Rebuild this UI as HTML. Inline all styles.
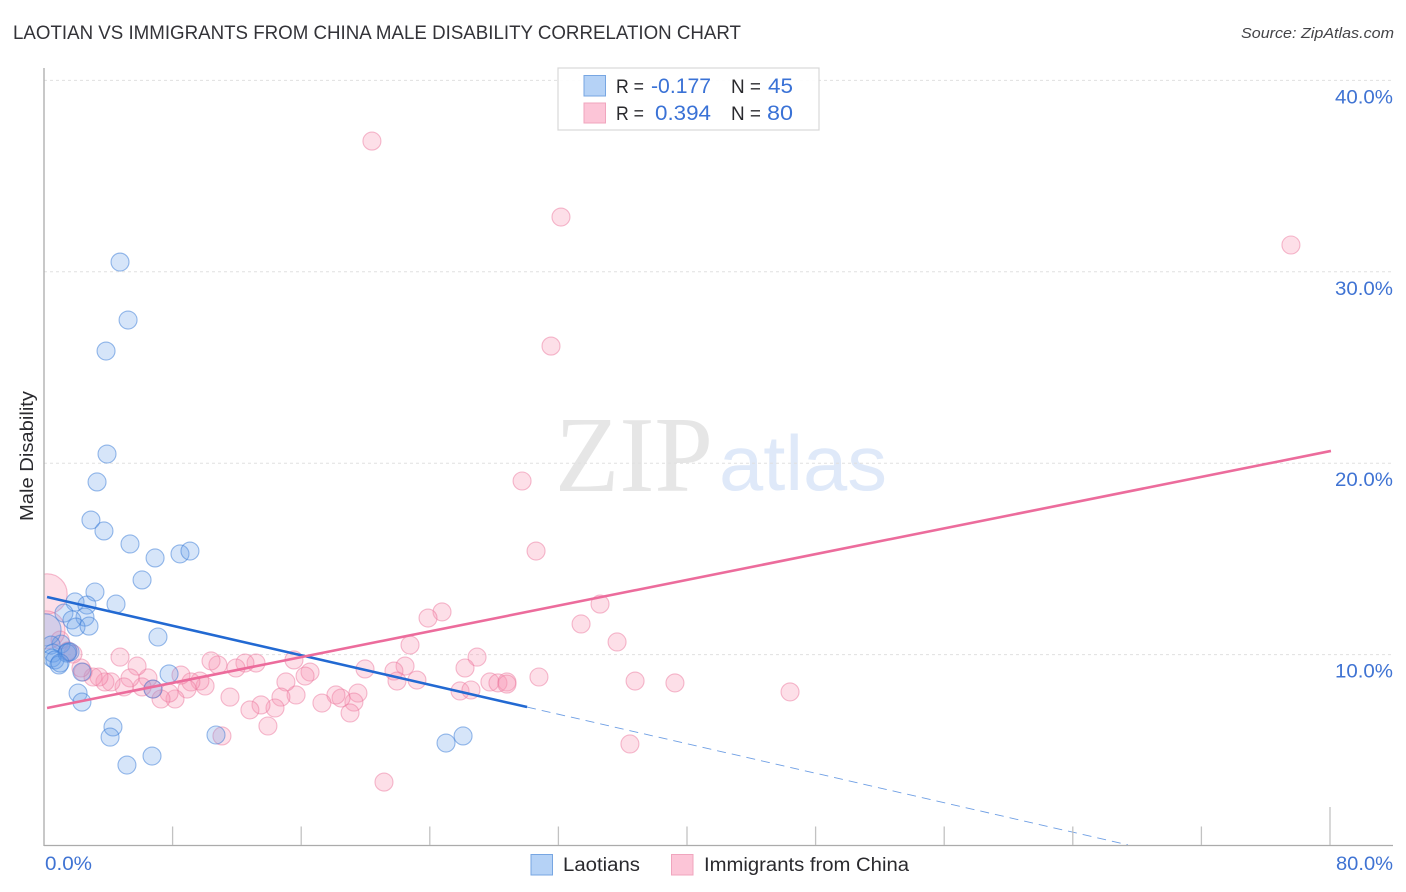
<!DOCTYPE html>
<html lang="en">
<head>
<meta charset="utf-8">
<title>Laotian vs Immigrants from China Male Disability Correlation Chart</title>
<style>
html,body{margin:0;padding:0;background:#fff;width:1406px;height:892px;overflow:hidden}
svg{display:block}
text{font-family:"Liberation Sans","DejaVu Sans",sans-serif}
</style>
</head>
<body>
<svg id="chart" xmlns="http://www.w3.org/2000/svg" width="1406" height="892" viewBox="0 0 1406 892">
  <rect x="0" y="0" width="1406" height="892" fill="#ffffff"/>

  <text x="555" y="491" font-size="108" textLength="158" lengthAdjust="spacingAndGlyphs" style="font-family:'Liberation Serif',serif" fill="#e6e6e6">ZIP</text>
  <text x="719" y="490" font-size="78" textLength="168" lengthAdjust="spacingAndGlyphs" fill="#dfe9f9">atlas</text>

  <g id="grid"></g>
  <g id="points-pink"></g>
  <g id="points-blue"></g>
  <g id="trends"></g>
  <rect x="0" y="60" width="44" height="790" fill="#ffffff"/>
  <g id="axes"></g>
  <g id="tick-labels"></g>

  <text x="13" y="39" font-size="19" textLength="728" lengthAdjust="spacingAndGlyphs" fill="#333338">LAOTIAN VS IMMIGRANTS FROM CHINA MALE DISABILITY CORRELATION CHART</text>
  <text x="1241" y="38" font-size="15" font-style="italic" textLength="153" lengthAdjust="spacingAndGlyphs" fill="#444448">Source: ZipAtlas.com</text>
  <text transform="translate(33,456) rotate(-90)" text-anchor="middle" font-size="18" textLength="130" lengthAdjust="spacingAndGlyphs" fill="#2a2a2e">Male Disability</text>

  <g>
    <rect x="558" y="68" width="261" height="62" fill="#ffffff" fill-opacity="0.92" stroke="#d8d8d8" stroke-width="1.2"/>
    <rect x="584" y="75.5" width="21.5" height="20.5" fill="#b5d2f6" stroke="#77a6e2" stroke-width="1"/>
    <rect x="584" y="103" width="21.5" height="20" fill="#fcc5d7" stroke="#f0a5be" stroke-width="1"/>
    <text x="616" y="93" font-size="19" textLength="28" lengthAdjust="spacingAndGlyphs" fill="#2a2a2e">R =</text>
    <text x="651" y="93" font-size="21" textLength="60" lengthAdjust="spacingAndGlyphs" fill="#3a72d6">-0.177</text>
    <text x="731" y="93" font-size="19" textLength="30" lengthAdjust="spacingAndGlyphs" fill="#2a2a2e">N =</text>
    <text x="768" y="93" font-size="21" textLength="25" lengthAdjust="spacingAndGlyphs" fill="#3a72d6">45</text>
    <text x="616" y="120" font-size="19" textLength="28" lengthAdjust="spacingAndGlyphs" fill="#2a2a2e">R =</text>
    <text x="655" y="120" font-size="21" textLength="56" lengthAdjust="spacingAndGlyphs" fill="#3a72d6">0.394</text>
    <text x="731" y="120" font-size="19" textLength="30" lengthAdjust="spacingAndGlyphs" fill="#2a2a2e">N =</text>
    <text x="767" y="120" font-size="21" textLength="26" lengthAdjust="spacingAndGlyphs" fill="#3a72d6">80</text>
  </g>

  <g>
    <rect x="531" y="854.5" width="21.5" height="20.5" fill="#b5d2f6" stroke="#77a6e2" stroke-width="1"/>
    <text x="563" y="871" font-size="19" textLength="77" lengthAdjust="spacingAndGlyphs" fill="#2a2a2e">Laotians</text>
    <rect x="671.5" y="854.5" width="21.5" height="20.5" fill="#fcc5d7" stroke="#f0a5be" stroke-width="1"/>
    <text x="704" y="871" font-size="19" textLength="205" lengthAdjust="spacingAndGlyphs" fill="#2a2a2e">Immigrants from China</text>
  </g>
</svg>
<script>
// Chart data (percent values)
const yTickValues = [10, 20, 30, 40];
const yTickLabels = ["10.0%", "20.0%", "30.0%", "40.0%"];
const xTickValues = [0, 8, 16, 24, 32, 40, 48, 56, 64, 72, 80];
const xEndLabels = ["0.0%", "80.0%"];

const laotiansX = [4.73,5.23,3.86,3.92,3.30,2.92,3.73,5.35,6.91,8.46,9.08,6.10,3.17,4.48,1.93,2.67,1.24,2.55,1.74,1.99,2.80,7.09,1.06,0.06,0.44,0.56,0.50,0.68,0.93,1.49,1.43,1.62,2.36,7.78,6.78,2.12,2.36,4.29,4.11,10.70,6.72,5.16,25.01,26.07,1.00];
const laotiansY = [30.51,27.48,25.86,20.48,19.02,17.03,16.46,15.78,15.05,15.26,15.41,13.90,13.27,12.64,12.75,12.59,12.17,11.96,11.81,11.44,11.49,10.92,10.55,11.29,10.50,10.08,9.82,9.72,9.46,10.14,10.08,10.14,9.09,8.99,8.20,7.99,7.52,6.22,5.69,5.80,4.70,4.23,5.38,5.75,9.56];
const laotiansWeight = [1,1,1,1,1,1,1,1,1,1,1,1,1,1,1,1,1,1,1,1,1,1,1,3.2,1,1,1,1,1,1,1,1,1,1,1,1,1,1,1,1,1,1,1,1,1];

const chinaX = [20.40,32.16,77.57,31.54,29.74,30.61,34.59,24.76,23.89,33.41,35.65,22.77,26.94,22.46,26.19,21.77,19.97,23.20,21.96,30.79,36.77,39.25,46.41,25.88,26.56,27.74,28.24,28.80,28.80,19.53,19.28,19.04,36.45,21.15,18.48,18.16,17.29,16.55,16.24,15.55,15.68,15.05,14.74,14.37,13.93,13.50,12.81,11.57,13.19,12.50,11.94,10.82,10.39,11.07,10.02,9.70,9.14,8.90,8.52,8.15,7.78,7.28,6.78,6.47,6.10,5.79,5.35,4.98,4.73,4.17,3.79,3.42,3.05,2.43,2.30,1.80,1.49,1.00,0.19,0.12];
const chinaY = [36.83,32.86,31.40,26.12,19.07,15.41,12.64,12.23,11.91,11.60,10.66,10.50,9.87,9.40,9.30,9.14,9.25,8.67,8.62,8.83,8.62,8.52,8.05,8.10,8.15,8.57,8.52,8.57,8.46,7.99,7.52,6.95,5.33,3.34,7.73,7.89,7.47,9.09,8.88,9.72,7.89,8.57,7.78,7.21,6.27,7.37,7.11,7.78,9.56,9.56,9.30,9.46,9.67,5.75,8.36,8.62,8.57,8.20,8.93,7.68,7.99,7.68,8.20,8.78,8.31,9.40,8.78,8.31,9.87,8.57,8.57,8.83,8.83,9.09,9.30,10.03,10.19,10.76,13.17,11.29];
const chinaWeight = [1,1,1,1,1,1,1,1,1,1,1,1,1,1,1,1,1,1,1,1,1,1,1,1,1,1,1,1,1,1,1,1,1,1,1,1,1,1,1,1,1,1,1,1,1,1,1,1,1,1,1,1,1,1,1,1,1,1,1,1,1,1,1,1,1,1,1,1,1,1,1,1,1,1,1,1,1,1,5,4.5];

const laotiansTrendX = [0.19, 30.05];
const laotiansTrendY = [13.01, 7.26];
const laotiansDashX = [30.05, 67.43];
const laotiansDashY = [7.26, 0.06];
const chinaTrendX = [0.19, 80.06];
const chinaTrendY = [7.21, 20.64];

// Axis functions
function xScale(v) { return 44 + v * 16.075; }
function yScale(v) { return 846 - v * 19.14; }
function radius(w) { return 9 * Math.sqrt(w); }

const NS = 'http://www.w3.org/2000/svg';
function make(tag, parent, attrs) {
  const el = document.createElementNS(NS, tag);
  for (const k in attrs) el.setAttribute(k, attrs[k]);
  parent.appendChild(el);
  return el;
}

const grid = document.getElementById('grid');
yTickValues.forEach(function (v) {
  const l = make('line', grid, {x1: 44, x2: 1393, y1: yScale(v), y2: yScale(v), stroke: '#e0e0e0', 'stroke-width': 1, 'stroke-dasharray': '3 3'});
  
  
});

const axes = document.getElementById('axes');
const yAxis = make('line', axes, {x1: 44, x2: 44, y1: 68, y2: 846, stroke: '#ababab', 'stroke-width': 1.3});


const xAxis = make('line', axes, {x1: 44, x2: 1393, y1: 845.5, y2: 845.5, stroke: '#ababab', 'stroke-width': 1.3});


xTickValues.forEach(function (v, i) {
  if (i === 0) return;
  const top = (i === xTickValues.length - 1) ? 807 : 826.5;
  const t = make('line', axes, {x1: xScale(v), x2: xScale(v), y1: top, y2: 845, stroke: '#c2c2c2', 'stroke-width': 1.3});
  
  
});

function drawPoints(groupId, xs, ys, ws, fill, stroke, name) {
  const g = document.getElementById(groupId);
  xs.forEach(function (x, i) {
    const c = make('circle', g, {cx: xScale(x), cy: yScale(ys[i]), r: radius(ws[i]), fill: fill, stroke: stroke, 'stroke-width': 1.1});
    
    
  });
}
drawPoints('points-pink', chinaX, chinaY, chinaWeight, 'rgba(248,150,180,0.3)', 'rgba(236,120,158,0.5)', 'china-point');
drawPoints('points-blue', laotiansX, laotiansY, laotiansWeight, 'rgba(105,160,232,0.27)', 'rgba(60,125,215,0.52)', 'laotians-point');

const trends = document.getElementById('trends');
const dashLine = make('line', trends, {x1: xScale(laotiansDashX[0]), y1: yScale(laotiansDashY[0]), x2: xScale(laotiansDashX[1]), y2: yScale(laotiansDashY[1]), stroke: '#6f9fe4', 'stroke-width': 0.9, 'stroke-dasharray': '9 6'});


const blueLine = make('line', trends, {x1: xScale(laotiansTrendX[0]), y1: yScale(laotiansTrendY[0]), x2: xScale(laotiansTrendX[1]), y2: yScale(laotiansTrendY[1]), stroke: '#2269d2', 'stroke-width': 2.6});


const pinkLine = make('line', trends, {x1: xScale(chinaTrendX[0]), y1: yScale(chinaTrendY[0]), x2: xScale(chinaTrendX[1]), y2: yScale(chinaTrendY[1]), stroke: '#ec6c9c', 'stroke-width': 2.6});



const labels = document.getElementById('tick-labels');
yTickValues.forEach(function (v, i) {
  const t = make('text', labels, {x: 1393, y: yScale(v) + 23, 'text-anchor': 'end', 'font-size': 19, textLength: 58, lengthAdjust: 'spacingAndGlyphs', fill: '#3f73d3'});
  t.textContent = yTickLabels[i];
  
  
});
const x0Label = make('text', labels, {x: 45, y: 870, 'font-size': 19, textLength: 47, lengthAdjust: 'spacingAndGlyphs', fill: '#3f73d3'});
x0Label.textContent = xEndLabels[0];


const x1Label = make('text', labels, {x: 1393, y: 870, 'text-anchor': 'end', 'font-size': 19, textLength: 57, lengthAdjust: 'spacingAndGlyphs', fill: '#3f73d3'});
x1Label.textContent = xEndLabels[1];


</script>
</body>
</html>
